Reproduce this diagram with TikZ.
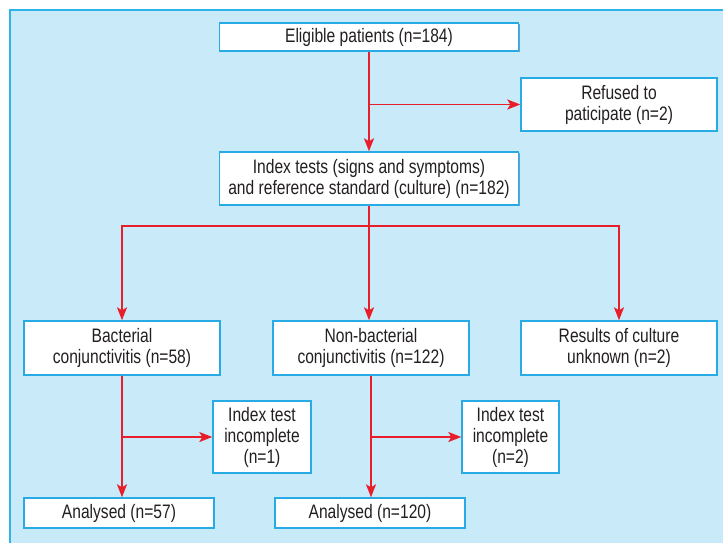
\documentclass[tikz,border=0pt]{standalone}
\usepackage{fontspec}
\setmainfont{Liberation Sans}[FakeStretch=0.8]
\usetikzlibrary{arrows.meta,shadows}
\definecolor{bgfill}{RGB}{200,234,249}
\definecolor{bgline}{RGB}{45,180,232}
\definecolor{boxline}{RGB}{40,170,228}
\definecolor{boxshadow}{RGB}{30,120,190}
\definecolor{arrred}{RGB}{232,30,42}
\definecolor{txt}{RGB}{35,31,32}
\tikzset{
  flowbox/.style={draw=boxline, line width=1.4pt, fill=white, align=center,
    inner sep=0pt, text=txt, font=\fontsize{19.5pt}{21pt}\selectfont,
    drop shadow={shadow xshift=1.2pt, shadow yshift=-1.2pt, fill=boxshadow, opacity=0.6}},
  conn/.style={draw=arrred, line width=1.8pt},
  arr/.style={conn, -{Stealth[length=13pt,width=10pt,inset=3pt]}}
}
\begin{document}
\begin{tikzpicture}[x=1pt,y=-1pt]
\useasboundingbox (0,0) rectangle (723,543);
\draw[bgline, line width=1.5pt, fill=bgfill] (10,10) rectangle (730,550);

\node[flowbox, minimum width=299pt, minimum height=28pt] (elig) at (369,37) {Eligible patients (n=184)};
\node[flowbox, minimum width=196pt, minimum height=53pt] (refused) at (619,104.5) {Refused to\\paticipate (n=2)};
\node[flowbox, minimum width=299pt, minimum height=53pt] (index) at (369,178.5) {Index tests (signs and symptoms)\\and reference standard (culture) (n=182)};
\node[flowbox, minimum width=196pt, minimum height=54pt] (bact) at (122,348) {Bacterial\\conjunctivitis (n=58)};
\node[flowbox, minimum width=196pt, minimum height=54pt] (nonbact) at (371,348) {Non-bacterial\\conjunctivitis (n=122)};
\node[flowbox, minimum width=196pt, minimum height=54pt] (unknown) at (619,348) {Results of culture\\unknown (n=2)};
\node[flowbox, minimum width=98pt, minimum height=72pt] (inc1) at (262,437) {Index test\\incomplete\\(n=1)};
\node[flowbox, minimum width=97pt, minimum height=72pt] (inc2) at (510.5,437) {Index test\\incomplete\\(n=2)};
\node[flowbox, minimum width=190pt, minimum height=30pt] (an57) at (119,513) {Analysed (n=57)};
\node[flowbox, minimum width=190pt, minimum height=30pt] (an120) at (370,513) {Analysed (n=120)};

\draw[arr] (elig.south) -- (elig.south |- index.north);
\draw[arr] (elig.south |- refused.west) -- (refused.west);

\coordinate (split) at ([yshift=-20pt]index.south);
\draw[conn] (index.south) -- (split);
\draw[arr] (split) -| (bact.north);
\draw[arr] (split) -| (unknown.north);
\draw[arr] (split) -- (split |- nonbact.north);

\draw[arr] (bact.south) -- (bact.south |- an57.north);
\draw[arr] (bact.south |- inc1.west) -- (inc1.west);
\draw[arr] (nonbact.south) -- (nonbact.south |- an120.north);
\draw[arr] (nonbact.south |- inc2.west) -- (inc2.west);
\end{tikzpicture}
\end{document}
